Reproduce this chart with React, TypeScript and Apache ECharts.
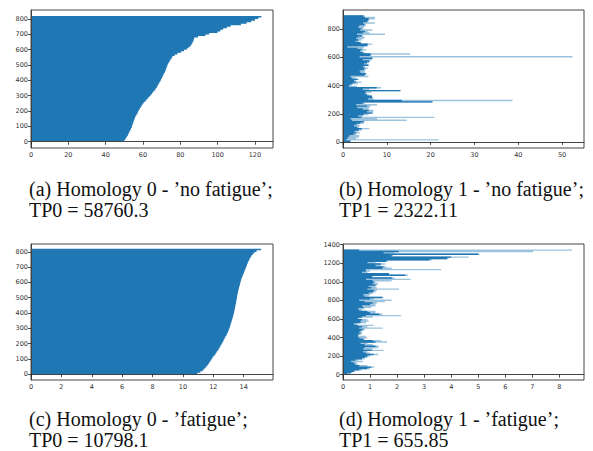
import React, { useEffect, useRef } from "react";
import * as echarts from "echarts";

const BLUE = "#1f77b4";
const LIGHT = "#9cc3de";

// (a) Homology 0 - 'no fatigue': bar lengths, one value per block of 10 bars (bottom to top)
const h0NoFatigue = [
  49.8, 50.5, 51.0, 51.5, 52.0, 52.4, 52.8, 53.2, 53.6, 54.0,
  54.2, 54.5, 54.8, 55.1, 55.4, 55.7, 56.0, 56.5, 57.0, 57.4,
  57.8, 58.3, 58.8, 59.3, 59.8, 60.4, 61.2, 62.0, 62.8, 63.5,
  64.2, 64.9, 65.5, 66.2, 66.9, 67.4, 67.9, 68.3, 68.8, 69.3,
  69.7, 70.1, 70.5, 70.9, 71.3, 71.8, 72.1, 72.4, 72.7, 73.0,
  73.3, 73.8, 74.3, 74.8, 75.3, 75.8, 77.0, 78.5, 80.5, 82.0,
  83.5, 84.5, 85.5, 86.0, 86.5, 87.0, 87.2, 87.5, 89.5, 93.5,
  95.5, 100.0, 101.5, 103.0, 105.0, 107.0, 112.5, 115.5, 118.0, 120.0,
  121.8, 123.5,
];

// (c) Homology 0 - 'fatigue': one value per block of 10 bars
const h0Fatigue = [
  10.95, 11.15, 11.3, 11.4, 11.5, 11.6, 11.67, 11.74, 11.8, 11.87,
  11.93, 12.0, 12.08, 12.16, 12.22, 12.3, 12.36, 12.42, 12.47, 12.53,
  12.59, 12.65, 12.7, 12.75, 12.8, 12.86, 12.91, 12.96, 13.0, 13.04,
  13.08, 13.11, 13.14, 13.17, 13.2, 13.23, 13.26, 13.29, 13.32, 13.35,
  13.37, 13.39, 13.41, 13.43, 13.45, 13.47, 13.49, 13.51, 13.53, 13.55,
  13.56, 13.58, 13.6, 13.62, 13.64, 13.67, 13.69, 13.72, 13.75, 13.77,
  13.8, 13.83, 13.86, 13.9, 13.94, 13.98, 14.02, 14.06, 14.1, 14.14,
  14.18, 14.22, 14.26, 14.3, 14.35, 14.4, 14.46, 14.52, 14.6, 14.7,
  14.85, 15.15,
];

// (b) Homology 1 - 'no fatigue': per block of 10 bars, shortest bar (core) and longest bar (max)
const h1NoFatigueCore = [
  1.7, 0.6, 1.0, 1.2, 1.5, 2.4, 3.0, 2.6, 3.6, 4.3,
  3.2, 2.5, 3.0, 4.0, 4.7, 2.0, 1.7, 4.2, 3.5, 4.7,
  6.6, 5.5, 5.9, 4.5, 3.2, 5.5, 3.0, 4.5, 20.4, 13.4,
  5.7, 6.6, 6.6, 5.5, 5.0, 5.2, 13.1, 4.5, 7.7, 1.3,
  1.5, 2.2, 3.0, 2.5, 3.3, 2.0, 1.7, 4.8, 5.2, 4.0,
  3.8, 4.7, 5.0, 4.5, 5.8, 4.8, 5.5, 6.0, 4.5, 6.7,
  3.8, 6.2, 6.3, 4.5, 3.9, 4.2, 3.3, 1.0, 5.5, 5.7,
  4.0, 2.9, 3.5, 3.0, 3.4, 4.3, 3.2, 4.5, 5.0, 3.9,
  4.2, 3.5, 3.7, 4.9, 4.6, 5.5, 5.7, 5.9, 5.0, 4.6,
];
const h1NoFatigueMax = [
  1.7, 21.8, 3.0, 3.6, 3.7, 3.0, 3.9, 3.4, 4.3, 6.0,
  3.6, 3.8, 3.6, 4.8, 5.0, 14.5, 7.8, 20.8, 4.5, 5.8,
  6.9, 6.9, 7.0, 5.8, 6.0, 6.3, 7.8, 5.0, 20.4, 38.7,
  6.9, 6.9, 6.6, 6.0, 5.5, 6.5, 13.1, 6.0, 8.7, 3.2,
  2.0, 3.4, 4.3, 2.9, 3.6, 2.8, 5.8, 5.2, 5.4, 5.0,
  5.0, 5.2, 5.7, 5.0, 5.9, 5.5, 6.0, 6.2, 6.6, 6.7,
  52.4, 6.5, 15.3, 5.0, 4.5, 5.3, 4.6, 4.8, 5.8, 6.7,
  4.2, 3.6, 4.2, 4.7, 5.0, 4.5, 9.6, 6.1, 5.6, 6.7,
  4.6, 4.8, 5.2, 5.2, 7.3, 5.8, 6.0, 7.3, 7.3, 5.0,
];

// (d) Homology 1 - 'fatigue': per block of 15 bars, core and max
const h1FatigueCore = [
  0.15, 0.3, 0.4, 0.6, 0.9, 1.05, 0.6, 0.45, 0.4, 0.3,
  0.45, 0.7, 0.8, 0.9, 1.13, 0.85, 0.75, 1.05, 0.75, 0.8,
  1.2, 0.8, 0.65, 1.2, 1.1, 0.75, 0.6, 0.55, 0.55, 0.65,
  0.6, 0.65, 0.75, 0.6, 0.7, 0.55, 0.4, 0.65, 0.65, 0.7,
  0.55, 0.7, 0.85, 1.35, 1.0, 0.9, 0.6, 0.55, 0.75, 0.7,
  1.0, 1.1, 0.8, 0.6, 1.0, 1.45, 0.8, 0.75, 0.95, 1.1,
  1.15, 0.9, 1.05, 0.95, 1.2, 1.1, 1.15, 1.1, 0.85, 1.8,
  1.07, 2.3, 1.7, 0.7, 0.85, 0.83, 1.45, 1.5, 1.2, 1.4,
  0.9, 1.6, 3.2, 3.85, 4.0, 1.8, 5.0, 1.5, 2.06, 0.6,
];
const h1FatigueMax = [
  0.25, 0.35, 0.45, 0.7, 1.0, 1.15, 0.9, 0.55, 0.5, 0.74,
  0.55, 0.8, 0.9, 1.0, 1.3, 1.0, 0.9, 1.5, 1.1, 1.3,
  1.32, 1.1, 0.9, 1.63, 1.4, 0.8, 0.9, 0.85, 0.6, 0.7,
  0.7, 0.7, 0.8, 1.47, 0.9, 1.13, 0.5, 0.85, 0.95, 0.9,
  0.6, 1.1, 2.15, 1.45, 1.2, 1.2, 0.7, 0.8, 1.05, 1.2,
  1.2, 1.25, 1.55, 1.8, 1.15, 1.5, 0.95, 1.0, 1.1, 1.2,
  1.25, 2.07, 1.25, 1.2, 1.26, 1.3, 1.2, 1.8, 2.5, 1.9,
  1.1, 2.4, 1.7, 0.9, 1.0, 3.63, 1.8, 1.6, 1.4, 1.56,
  1.2, 1.65, 3.3, 3.9, 4.65, 1.85, 5.05, 1.9, 7.03, 8.47,
];

const ticksAX = [0, 20, 40, 60, 80, 100, 120];
const ticksAY = [0, 100, 200, 300, 400, 500, 600, 700, 800];
const ticksBX = [0, 10, 20, 30, 40, 50];
const ticksBY = [0, 200, 400, 600, 800];
const ticksCX = [0, 2, 4, 6, 8, 10, 12, 14];
const ticksCY = [0, 100, 200, 300, 400, 500, 600, 700, 800];
const ticksDX = [0, 1, 2, 3, 4, 5, 6, 7, 8];
const ticksDY = [0, 200, 400, 600, 800, 1000, 1200, 1400];

const captions = [
  "(a) Homology 0 - \u2019no fatigue\u2019;\nTP0 = 58760.3",
  "(b) Homology 1 - \u2019no fatigue\u2019;\nTP1 = 2322.11",
  "(c) Homology 0 - \u2019fatigue\u2019;\nTP0 = 10798.1",
  "(d) Homology 1 - \u2019fatigue\u2019;\nTP1 = 655.85",
];

const panels = [
  { grid: { left: 31, top: 10, width: 242, height: 138 }, x: [0, 129.7], y: [-41, 859], tx: ticksAX, ty: ticksAY },
  { grid: { left: 343, top: 10, width: 241, height: 138 }, x: [0, 55.0], y: [-43, 937], tx: ticksBX, ty: ticksBY },
  { grid: { left: 31, top: 244, width: 242, height: 136 }, x: [0, 15.93], y: [-38, 851], tx: ticksCX, ty: ticksCY },
  { grid: { left: 343, top: 244, width: 241, height: 136 }, x: [0, 8.91], y: [-57, 1408], tx: ticksDX, ty: ticksDY },
];

const captionPos = [
  { left: 29, top: 178 },
  { left: 339, top: 178 },
  { left: 29, top: 408 },
  { left: 339, top: 408 },
];

// Bars of one panel: every block of bars drawn from the values through the axis scales,
// merged into one step outline so neighbouring bars leave no seams.
function barsSeries(axis: number, values: number[], block: number, color: string, z: number) {
  return {
    type: "custom",
    xAxisIndex: axis,
    yAxisIndex: axis,
    silent: true,
    z,
    clip: true,
    data: [[0, 0]],
    renderItem: (params: any, api: any) => {
      const pts: number[][] = [];
      pts.push(api.coord([0, -0.5]));
      values.forEach((v, i) => {
        const y0 = i * block - 0.5;
        pts.push(api.coord([v, y0]));
        pts.push(api.coord([v, y0 + block]));
      });
      pts.push(api.coord([0, values.length * block - 0.5]));
      return {
        type: "polygon",
        shape: { points: pts },
        style: { fill: color },
      };
    },
  };
}

export default function App() {
  const ref = useRef<HTMLDivElement>(null);
  useEffect(() => {
    if (!ref.current) return;
    const chart = echarts.init(ref.current, undefined, { renderer: "svg" });
    const axisLabel = (ticks: number[]) => ({
      customValues: ticks,
      fontSize: 6.5,
      fontFamily: "DejaVu Sans",
      color: "#333",
      margin: 3,
      formatter: (v: number) => String(v),
    });
    const axisTick = (ticks: number[]) => ({
      show: true,
      customValues: ticks,
      length: 3,
      lineStyle: { color: "#222", width: 0.8 },
    });
    const option: any = {
      animation: false,
      backgroundColor: "#fff",
      grid: panels.map((p) => ({ ...p.grid, show: true, borderColor: "#444", borderWidth: 1, backgroundColor: "transparent" })),
      xAxis: panels.map((p, i) => ({
        type: "value",
        gridIndex: i,
        min: p.x[0],
        max: p.x[1],
        z: 5,
        axisLine: { show: true, lineStyle: { color: "#444", width: 1 } },
        axisTick: axisTick(p.tx),
        axisLabel: axisLabel(p.tx),
        splitLine: { show: false },
      })),
      yAxis: panels.map((p, i) => ({
        type: "value",
        gridIndex: i,
        min: p.y[0],
        max: p.y[1],
        z: 5,
        axisLine: { show: true, lineStyle: { color: "#444", width: 1 } },
        axisTick: axisTick(p.ty),
        axisLabel: axisLabel(p.ty),
        splitLine: { show: false },
      })),
      title: captions.map((t, i) => ({
        text: t,
        left: captionPos[i].left,
        top: captionPos[i].top,
        padding: 0,
        textStyle: {
          fontFamily: "'Liberation Serif', 'Times New Roman', serif",
          fontSize: 20,
          fontWeight: "normal",
          color: "#111",
          lineHeight: 21,
        },
      })),
      series: [
        barsSeries(0, h0NoFatigue, 10, BLUE, 2),
        barsSeries(1, h1NoFatigueMax, 10, LIGHT, 2),
        barsSeries(1, h1NoFatigueCore, 10, BLUE, 3),
        barsSeries(2, h0Fatigue, 10, BLUE, 2),
        barsSeries(3, h1FatigueMax, 15, LIGHT, 2),
        barsSeries(3, h1FatigueCore, 15, BLUE, 3),
      ],
    };
    chart.setOption(option);
    return () => chart.dispose();
  }, []);
  return (
    <div
      ref={ref}
      style={{ position: "absolute", left: 0, top: 0, width: 593, height: 451, background: "#fff" }}
    />
  );
}
